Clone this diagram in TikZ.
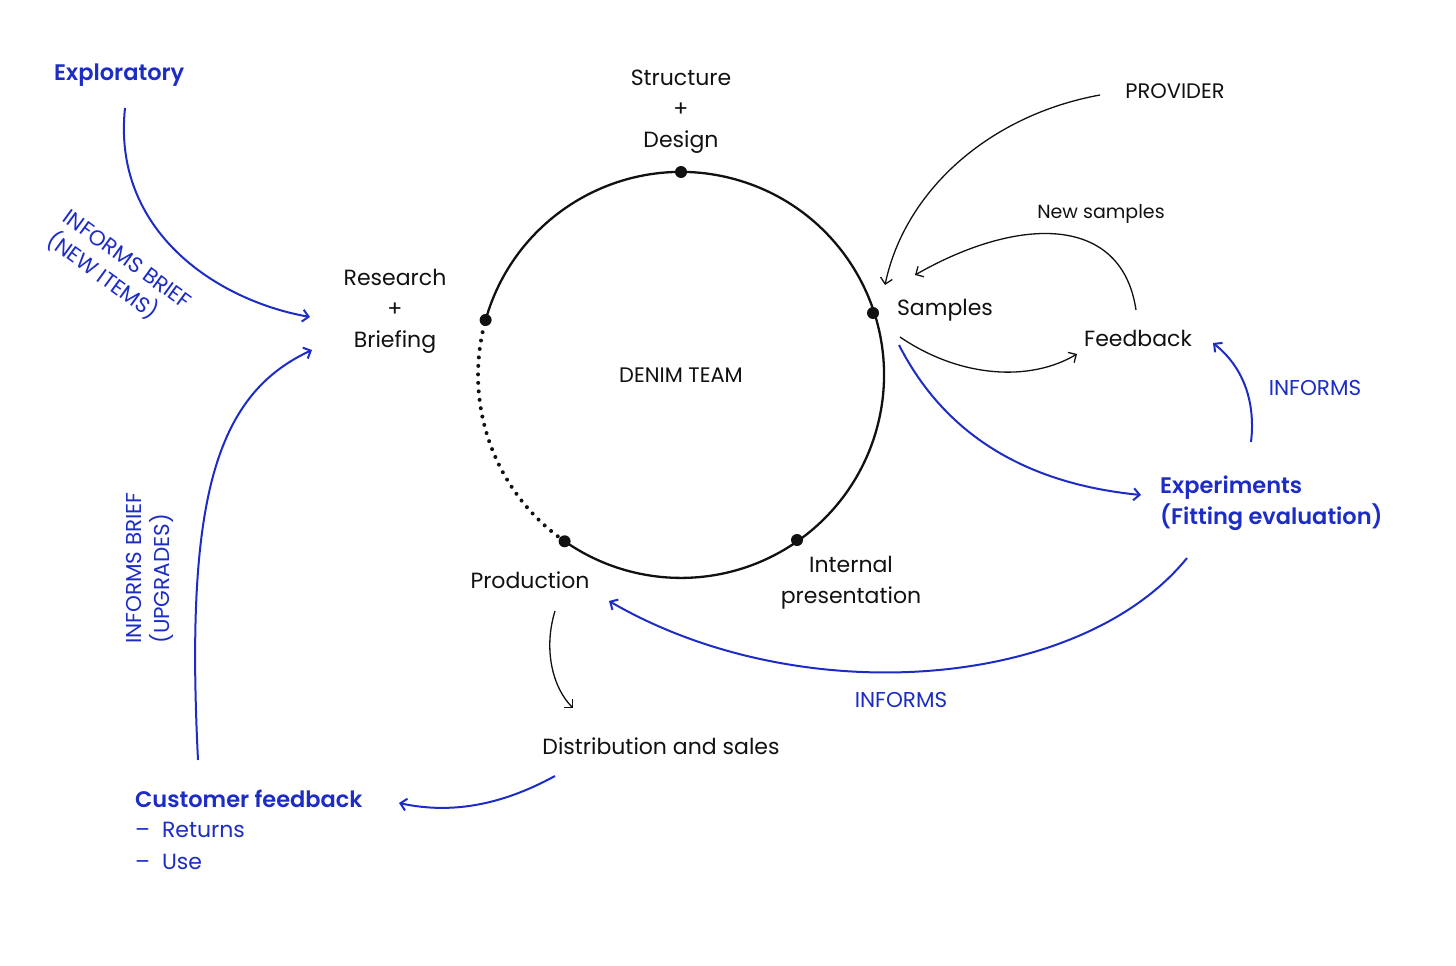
\documentclass[tikz,border=0pt]{standalone}
\usepackage{fontspec}
\setmainfont{Poppins}[BoldFont={* SemiBold}]
\usetikzlibrary{arrows.meta}
\definecolor{dblue}{RGB}{28,44,196}
\definecolor{ink}{RGB}{17,17,17}
\begin{document}
\begin{tikzpicture}[x=1pt,y=-1pt,
  lbl/.style={font=\fontsize{22}{31}\selectfont, text=ink, align=center, inner sep=0pt},
  small/.style={font=\fontsize{21}{26}\selectfont, text=ink, inner sep=0pt},
  bluelbl/.style={font=\fontsize{21.5}{28}\selectfont, text=dblue, inner sep=0pt},
  bluehead/.style={font=\fontsize{22.5}{31}\selectfont\bfseries, text=dblue, inner sep=0pt},
  bluetext/.style={font=\fontsize{22}{31.5}\selectfont, text=dblue, inner sep=0pt},
  tip/.style={-{Straight Barb[length=6pt,width=12pt]}},
  blk/.style={tip, draw=ink, line width=1.3pt},
  blu/.style={tip, draw=dblue, line width=2pt},
  dot/.style={fill=ink}
]
\useasboundingbox (0,0) rectangle (1456,966);

% circle
\coordinate (C) at (681,375);
\draw[ink, line width=2.3pt] (485.6,320) arc[start angle=-164.3, end angle=125, radius=203];
\draw[ink, line width=4pt, line cap=round, dash pattern=on 0pt off 8.5pt]
  (564.6,541.3) arc[start angle=125, end angle=195.7, radius=203];
\coordinate (dTop) at (681,172);
\coordinate (dRight) at (873,313);
\coordinate (dLeft) at (485.6,320);
\coordinate (dBL) at (564.6,541.3);
\coordinate (dBR) at (797,540);
\foreach \p in {dTop,dRight,dLeft,dBL,dBR} \fill[dot] (\p) circle[radius=6];

% labels
\node[lbl] (struct) at (681,112) {Structure\\+\\Design};
\node[lbl] (research) at (395,311) {Research\\+\\Briefing};
\node[small] (denim) at (681,375) {DENIM TEAM};
\node[lbl] (samples) at (945,310) {Samples};
\node[lbl] (feedback) at (1138,338) {Feedback};
\node[small, font=\fontsize{19}{24}\selectfont] (newsamples) at (1101,214) {New samples};
\node[small] (provider) at (1175,91) {PROVIDER};
\node[bluelbl] (informs1) at (1315,388) {INFORMS};
\node[bluehead, anchor=west, align=left] (exper) at (1160,503) {Experiments\\(Fitting evaluation)};
\node[lbl] (internal) at (851,583) {Internal\\presentation};
\node[lbl] (production) at (530,580) {Production};
\node[bluelbl] (informs2) at (901,700) {INFORMS};
\node[lbl] (distrib) at (661,746) {Distribution and sales};
\node[bluehead, anchor=west] (customer) at (135,799) {Customer feedback};
\node[bluetext, anchor=north west, align=left] (items) at (135,822) {–\hspace{12pt}Returns\\–\hspace{12pt}Use};
\node[bluehead, anchor=west] (explor) at (54,75) {Exploratory};
\node[bluelbl, rotate=-36, align=left] (ib1) at (118,272) {INFORMS BRIEF\\(NEW ITEMS)};
\node[bluelbl, rotate=90, align=left] (ib2) at (150,568) {INFORMS BRIEF\\(UPGRADES)};

% connector end points
\coordinate (eA) at (125,108);   \coordinate (eB) at (310,317);
\coordinate (cA) at (198,760);   \coordinate (cB) at (312,350);
\coordinate (pA) at (1100,95);   \coordinate (pB) at (885,285);
\coordinate (nA) at (1136,310);  \coordinate (nB) at (915,275);
\coordinate (sA) at (900,337);   \coordinate (sB) at (1077,354);
\coordinate (xA) at (899,345);   \coordinate (xB) at (1141,495);
\coordinate (iA) at (1251,442);  \coordinate (iB) at (1213,343);
\coordinate (rA) at (1187,558);  \coordinate (rB) at (609,601);
\coordinate (qA) at (555,611);   \coordinate (qB) at (573,708);
\coordinate (uA) at (555,776);   \coordinate (uB) at (399,803);

% connectors
\draw[blu] (eA) .. controls (112,230) and (215,300) .. (eB);
\draw[blu] (cA) .. controls (185,500) and (215,395) .. (cB);
\draw[blk] (pA) .. controls (990,115) and (905,190) .. (pB);
\draw[blk] (nA) .. controls (1122,215) and (1020,215) .. (nB);
\draw[blk] (sA) .. controls (960,378) and (1030,382) .. (sB);
\draw[blu] (xA) .. controls (950,445) and (1040,485) .. (xB);
\draw[blu] (iA) .. controls (1256,400) and (1242,366) .. (iB);
\draw[blu] (rA) .. controls (1080,690) and (800,712) .. (rB);
\draw[blk] (qA) .. controls (543,650) and (553,688) .. (qB);
\draw[blu] (uA) .. controls (500,806) and (450,814) .. (uB);
\end{tikzpicture}
\end{document}
